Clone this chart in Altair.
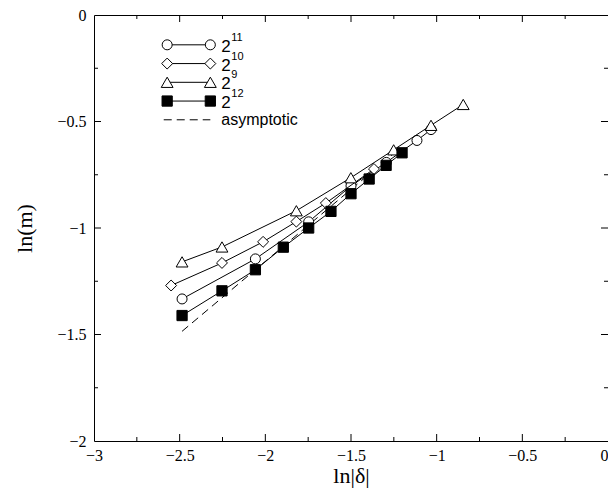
import altair as alt
import pandas as pd

# ---- data ----
x_n11 = [-2.486, -2.058, -1.747, -1.500, -1.294, -1.115, -1.033]
y_n11 = [-1.333, -1.145, -0.971, -0.802, -0.692, -0.589, -0.538]
x_n10 = [-2.550, -2.253, -2.013, -1.819, -1.647, -1.366]
y_n10 = [-1.270, -1.164, -1.065, -0.970, -0.883, -0.723]
x_n9 = [-2.486, -2.253, -1.819, -1.501, -1.251, -1.033, -0.845]
y_n9 = [-1.159, -1.089, -0.919, -0.764, -0.633, -0.518, -0.420]
x_n12 = [-2.486, -2.253, -2.058, -1.895, -1.747, -1.617, -1.500, -1.394, -1.295, -1.202]
y_n12 = [-1.411, -1.295, -1.196, -1.090, -1.000, -0.922, -0.839, -0.770, -0.706, -0.647]
x_asym = [-2.486, -1.25]
y_asym = [-1.485, -0.65]

legend_exp = ["11", "10", "9", "12"]
legend_y = [-0.14, -0.228, -0.316, -0.404]
asym_label = "asymptotic"
asym_label_y = -0.492
legend_x_left = -2.573
legend_x_right = -2.321
legend_text_x = -2.257

x_labels = [-3, -2.5, -2, -1.5, -1, -0.5, 0]
y_labels = [-2, -1.5, -1, -0.5, 0]
x_major = [-2.5, -2.0, -1.5, -1.0, -0.5]
x_minor = [-2.75, -2.25, -1.75, -1.25, -0.75, -0.25]
y_major = [-1.5, -1.0, -0.5]
y_minor = [-1.75, -1.25, -0.75, -0.25]

W, H = 514, 426
XD, YD = [-3, 0], [-2, 0]

xs = alt.Scale(domain=XD, nice=False, zero=False)
ys = alt.Scale(domain=YD, nice=False, zero=False)

x_axis = alt.Axis(values=x_labels, format="~g", title="ln|δ|", domain=False, ticks=False, grid=False,
                  labelFont="Liberation Serif", labelFontSize=16, labelColor="black",
                  labelPadding=6, titleFont="Liberation Serif", titleFontSize=22,
                  titleFontWeight="normal", titleColor="black", titlePadding=2, labelFlush=False,
                  labelAlign=alt.ExprRef(expr="datum.value == 0 ? 'right' : 'center'"))
y_axis = alt.Axis(values=y_labels, format="~g", title="ln(m)", domain=False, ticks=False, grid=False,
                  labelFont="Liberation Serif", labelFontSize=16, labelColor="black",
                  labelPadding=8, titleFont="Liberation Serif", titleFontSize=22,
                  titleFontWeight="normal", titleColor="black", titlePadding=20, labelFlush=False)


def X(field="x"):
    return alt.X(f"{field}:Q", scale=xs, axis=x_axis)


def Y(field="y"):
    return alt.Y(f"{field}:Q", scale=ys, axis=y_axis)


layers = []


# inward ticks on all four sides
def xticks(vals, length):
    df = pd.DataFrame({"x": vals})
    b = alt.Chart(df).mark_rule(color="black", strokeWidth=1).encode(
        x=X(), y=alt.value(H), y2=alt.value(H - length))
    t = alt.Chart(df).mark_rule(color="black", strokeWidth=1).encode(
        x=X(), y=alt.value(0), y2=alt.value(length))
    return [b, t]


def yticks(vals, length):
    df = pd.DataFrame({"y": vals})
    l = alt.Chart(df).mark_rule(color="black", strokeWidth=1).encode(
        y=Y(), x=alt.value(0), x2=alt.value(length))
    r = alt.Chart(df).mark_rule(color="black", strokeWidth=1).encode(
        y=Y(), x=alt.value(W), x2=alt.value(W - length))
    return [l, r]


# axis carrier layer (labels + titles)
axes_df = pd.DataFrame({"x": [XD[0], XD[1]], "y": [YD[0], YD[1]]})
layers.append(alt.Chart(axes_df).mark_point(opacity=0).encode(x=X(), y=Y()))

layers += xticks(x_major, 7) + xticks(x_minor, 4) + yticks(y_major, 7) + yticks(y_minor, 4)

# asymptotic dashed line
asym_df = pd.DataFrame({"x": x_asym, "y": y_asym})
layers.append(alt.Chart(asym_df).mark_line(color="black", strokeWidth=1, strokeDash=[8, 5]).encode(
    x=X(), y=Y(), order="x:Q"))

styles = [
    (x_n11, y_n11, "circle", "white", 100),
    (x_n10, y_n10, "diamond", "white", 120),
    (x_n9, y_n9, "triangle-up", "white", 140),
    (x_n12, y_n12, "square", "black", 105),
]

for (xv, yv, shape, fill, size), exp, ly in zip(styles, legend_exp, legend_y):
    df = pd.DataFrame({"x": xv, "y": yv})
    layers.append(alt.Chart(df).mark_line(color="black", strokeWidth=1).encode(
        x=X(), y=Y(), order="x:Q"))
    layers.append(alt.Chart(df).mark_point(shape=shape, filled=True, fill=fill, stroke="black",
                                           strokeWidth=1, size=size, opacity=1).encode(x=X(), y=Y()))
    # legend entry
    ldf = pd.DataFrame({"x": [legend_x_left, legend_x_right], "y": [ly, ly]})
    layers.append(alt.Chart(ldf).mark_line(color="black", strokeWidth=1).encode(x=X(), y=Y()))
    layers.append(alt.Chart(ldf).mark_point(shape=shape, filled=True, fill=fill, stroke="black",
                                            strokeWidth=1, size=size, opacity=1).encode(x=X(), y=Y()))
    tdf = pd.DataFrame({"x": [legend_text_x], "y": [ly], "t": ["2"], "e": [exp]})
    layers.append(alt.Chart(tdf).mark_text(align="left", baseline="middle", font="Liberation Sans",
                                           fontSize=17, color="black", dy=2).encode(
        x=X(), y=Y(), text="t:N"))
    layers.append(alt.Chart(tdf).mark_text(align="left", baseline="middle", font="Liberation Sans",
                                           fontSize=11, color="black", dx=10, dy=-7).encode(
        x=X(), y=Y(), text="e:N"))

# asymptotic legend entry
adf = pd.DataFrame({"x": [legend_x_left - 0.02, legend_x_right], "y": [asym_label_y, asym_label_y]})
layers.append(alt.Chart(adf).mark_line(color="black", strokeWidth=1, strokeDash=[8, 5]).encode(x=X(), y=Y()))
atdf = pd.DataFrame({"x": [legend_text_x], "y": [asym_label_y], "t": [asym_label]})
layers.append(alt.Chart(atdf).mark_text(align="left", baseline="middle", font="Liberation Sans",
                                        fontSize=16, color="black").encode(x=X(), y=Y(), text="t:N"))

chart = alt.layer(*layers).properties(
    width=W, height=H,
    padding={"left": 86, "top": 7, "right": 0, "bottom": 48},
    autosize=alt.AutoSizeParams(type="none"),
    background="white",
).configure_view(stroke="black", strokeWidth=1)

chart.save("out.html", embed_options={"renderer": "svg", "actions": False})
